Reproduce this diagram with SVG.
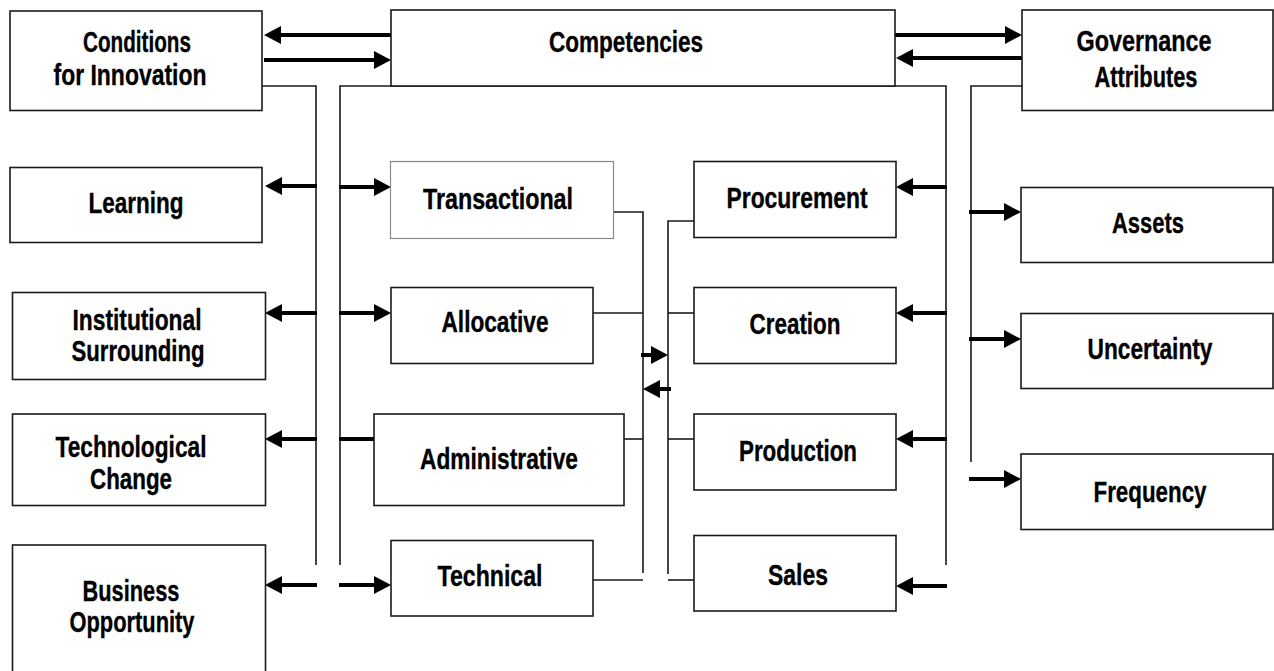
<svg xmlns="http://www.w3.org/2000/svg" width="1274" height="671" viewBox="0 0 1274 671">
  <style>
    .box { fill: #fff; stroke: #1a1a1a; stroke-width: 1.6; }
    .box.light { stroke: #8a8a8a; stroke-width: 1.2; }
    .lbl { font-family: "Liberation Sans", Arial, sans-serif; font-weight: bold; font-size: 29px; fill: #000; stroke: #000; stroke-width: 0.35; text-anchor: middle; }
    .bus { fill: none; stroke: #1a1a1a; stroke-width: 1.6; }
    .arr { fill: none; stroke: #000; stroke-width: 4; marker-end: url(#head); }
    .bar { fill: none; stroke: #000; stroke-width: 4; }
  </style>
  <defs>
    <!-- filled triangular arrowhead; the line stops at its base -->
    <marker id="head" viewBox="0 0 17 18" refX="0" refY="9" markerWidth="17" markerHeight="18" markerUnits="userSpaceOnUse" orient="auto">
      <path d="M0,0 L17,9 L0,18 Z" fill="#000"/>
    </marker>
  </defs>

  <rect width="1274" height="671" fill="#fff"/>

  <!-- connectors -->
  <g id="connectors">
    <!-- thin bus lines -->
    <polyline class="bus" points="262,86 316,86 316,565"/>
    <polyline class="bus" points="340,565 340,86 946,86 946,565"/>
    <polyline class="bus" points="1022,86 971,86 971,462"/>
    <polyline class="bus" points="613,212 643,212 643,573"/>
    <line class="bus" x1="593" y1="313" x2="643" y2="313"/>
    <line class="bus" x1="624" y1="439" x2="643" y2="439"/>
    <line class="bus" x1="593" y1="580" x2="643" y2="580"/>
    <polyline class="bus" points="694,221 668,221 668,574"/>
    <line class="bus" x1="668" y1="313" x2="694" y2="313"/>
    <line class="bus" x1="668" y1="439" x2="694" y2="439"/>
    <line class="bus" x1="668" y1="580" x2="694" y2="580"/>

    <!-- Competencies with Conditions / Governance -->
    <line class="arr" x1="391" y1="35" x2="281" y2="35"/>
    <line class="arr" x1="264" y1="60" x2="374" y2="60"/>
    <line class="arr" x1="895" y1="35" x2="1005" y2="35"/>
    <line class="arr" x1="1022" y1="58" x2="913" y2="58"/>

    <!-- left bus to condition boxes -->
    <line class="arr" x1="317" y1="186" x2="282" y2="186"/>
    <line class="arr" x1="317" y1="313" x2="282" y2="313"/>
    <line class="arr" x1="317" y1="439" x2="282" y2="439"/>
    <line class="arr" x1="317" y1="585" x2="282" y2="585"/>

    <!-- second bus to competency types -->
    <line class="arr" x1="339" y1="187" x2="374" y2="187"/>
    <line class="arr" x1="339" y1="313" x2="374" y2="313"/>
    <line class="bar" x1="339" y1="439" x2="374" y2="439"/>
    <line class="arr" x1="339" y1="585" x2="374" y2="585"/>

    <!-- between the two middle buses -->
    <line class="arr" x1="641" y1="355" x2="651" y2="355"/>
    <line class="arr" x1="671" y1="389" x2="660" y2="389"/>

    <!-- right bus to value chain boxes -->
    <line class="arr" x1="947" y1="187" x2="913" y2="187"/>
    <line class="arr" x1="947" y1="313" x2="913" y2="313"/>
    <line class="arr" x1="947" y1="439" x2="913" y2="439"/>
    <line class="arr" x1="947" y1="586" x2="913" y2="586"/>

    <!-- governance bus to attributes -->
    <line class="arr" x1="969" y1="212" x2="1004" y2="212"/>
    <line class="arr" x1="969" y1="339" x2="1004" y2="339"/>
    <line class="arr" x1="969" y1="479" x2="1004" y2="479"/>
  </g>

  <!-- top row -->
  <g id="conditions">
    <rect class="box" x="10" y="11" width="252" height="99.5"/>
    <text class="lbl" x="137" y="52" textLength="108" lengthAdjust="spacingAndGlyphs">Conditions</text>
    <text class="lbl" x="130" y="85" textLength="153" lengthAdjust="spacingAndGlyphs">for Innovation</text>
  </g>
  <g id="competencies">
    <rect class="box" x="391" y="10" width="504" height="76"/>
    <text class="lbl" x="626" y="52" textLength="154" lengthAdjust="spacingAndGlyphs">Competencies</text>
  </g>
  <g id="governance">
    <rect class="box" x="1022" y="10" width="251" height="100.5"/>
    <text class="lbl" x="1144" y="51" textLength="135" lengthAdjust="spacingAndGlyphs">Governance</text>
    <text class="lbl" x="1146" y="87" textLength="103" lengthAdjust="spacingAndGlyphs">Attributes</text>
  </g>

  <!-- conditions for innovation -->
  <g id="learning">
    <rect class="box" x="10" y="167.5" width="252" height="75"/>
    <text class="lbl" x="136" y="213" textLength="95" lengthAdjust="spacingAndGlyphs">Learning</text>
  </g>
  <g id="institutional">
    <rect class="box" x="12.5" y="292.5" width="253" height="87"/>
    <text class="lbl" x="137" y="330" textLength="129" lengthAdjust="spacingAndGlyphs">Institutional</text>
    <text class="lbl" x="138" y="361" textLength="133" lengthAdjust="spacingAndGlyphs">Surrounding</text>
  </g>
  <g id="technological">
    <rect class="box" x="12.5" y="414" width="253" height="91.5"/>
    <text class="lbl" x="131" y="457" textLength="151" lengthAdjust="spacingAndGlyphs">Technological</text>
    <text class="lbl" x="131" y="489" textLength="82" lengthAdjust="spacingAndGlyphs">Change</text>
  </g>
  <g id="business">
    <rect class="box" x="12.5" y="545" width="253" height="140"/>
    <text class="lbl" x="131" y="601" textLength="97" lengthAdjust="spacingAndGlyphs">Business</text>
    <text class="lbl" x="132" y="632" textLength="125" lengthAdjust="spacingAndGlyphs">Opportunity</text>
  </g>

  <!-- competency types -->
  <g id="transactional">
    <rect class="box light" x="390.5" y="161.5" width="223" height="77"/>
    <text class="lbl" x="498" y="209" textLength="150" lengthAdjust="spacingAndGlyphs">Transactional</text>
  </g>
  <g id="allocative">
    <rect class="box" x="391" y="287.5" width="202" height="76"/>
    <text class="lbl" x="495" y="332" textLength="107" lengthAdjust="spacingAndGlyphs">Allocative</text>
  </g>
  <g id="administrative">
    <rect class="box" x="374" y="414" width="250" height="91.5"/>
    <text class="lbl" x="499" y="469" textLength="158" lengthAdjust="spacingAndGlyphs">Administrative</text>
  </g>
  <g id="technical">
    <rect class="box" x="391" y="540.5" width="202" height="75.5"/>
    <text class="lbl" x="490" y="586" textLength="105" lengthAdjust="spacingAndGlyphs">Technical</text>
  </g>

  <!-- value chain -->
  <g id="procurement">
    <rect class="box" x="694" y="161.5" width="202" height="76"/>
    <text class="lbl" x="797" y="208" textLength="141" lengthAdjust="spacingAndGlyphs">Procurement</text>
  </g>
  <g id="creation">
    <rect class="box" x="694" y="287.5" width="202" height="76"/>
    <text class="lbl" x="795" y="334" textLength="91" lengthAdjust="spacingAndGlyphs">Creation</text>
  </g>
  <g id="production">
    <rect class="box" x="694" y="414" width="202" height="76"/>
    <text class="lbl" x="798" y="461" textLength="118" lengthAdjust="spacingAndGlyphs">Production</text>
  </g>
  <g id="sales">
    <rect class="box" x="694" y="535.5" width="202" height="75.5"/>
    <text class="lbl" x="798" y="585" textLength="60" lengthAdjust="spacingAndGlyphs">Sales</text>
  </g>

  <!-- governance attributes -->
  <g id="assets">
    <rect class="box" x="1021" y="187.5" width="252" height="75"/>
    <text class="lbl" x="1148" y="233" textLength="72" lengthAdjust="spacingAndGlyphs">Assets</text>
  </g>
  <g id="uncertainty">
    <rect class="box" x="1021" y="313.5" width="252" height="75"/>
    <text class="lbl" x="1150" y="359" textLength="125" lengthAdjust="spacingAndGlyphs">Uncertainty</text>
  </g>
  <g id="frequency">
    <rect class="box" x="1021" y="454" width="252" height="75.5"/>
    <text class="lbl" x="1150" y="502" textLength="113" lengthAdjust="spacingAndGlyphs">Frequency</text>
  </g>
</svg>
